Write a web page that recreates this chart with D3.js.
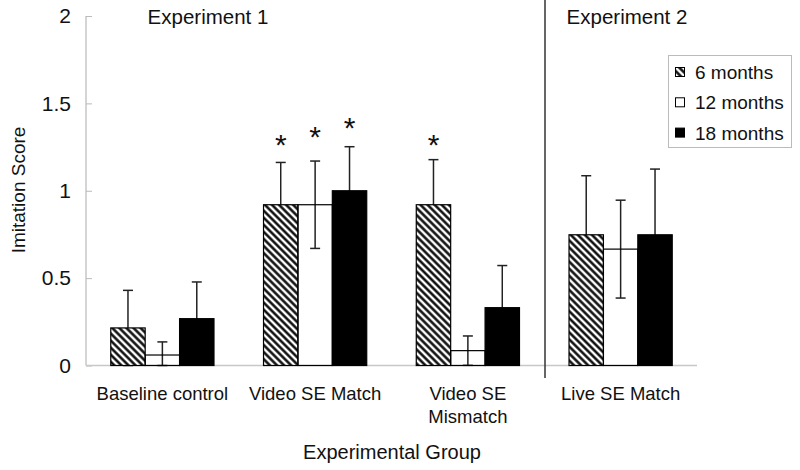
<!DOCTYPE html>
<html><head><meta charset="utf-8">
<script src="https://cdn.jsdelivr.net/npm/d3@7/dist/d3.min.js"></script>
<style>
html,body{margin:0;padding:0;background:#fff;}
svg{display:block;font-family:"Liberation Sans",Arial,Helvetica,sans-serif;}
</style></head>
<body><svg id="chart" width="800" height="470"></svg>
<script>
const groups = ["Baseline control", "Video SE Match", "Video SE\nMismatch", "Live SE Match"];
const seriesNames = ["6 months", "12 months", "18 months"];
const means6  = [0.215, 0.92, 0.92, 0.748];
const means12 = [0.06, 0.92, 0.085, 0.666];
const means18 = [0.268, 1.0, 0.331, 0.748];
const err6  = [0.215, 0.242, 0.258, 0.338];
const err12 = [0.075, 0.25, 0.084, 0.28];
const err18 = [0.21, 0.252, 0.241, 0.376];
const yTicks = [0, 0.5, 1, 1.5, 2];
const yTickLabels = ["0", "0.5", "1", "1.5", "2"];
// significance stars: group index, series index, height (score units)
const starGroup = [1, 1, 1, 2];
const starSeries = [0, 1, 2, 0];
const starHeight = [1.30, 1.345, 1.40, 1.30];
const experimentLabels = ["Experiment 1", "Experiment 2"];

const svg = d3.select("#chart");
const defs = svg.append("defs");
const pat = defs.append("pattern").attr("id","hatch").attr("patternUnits","userSpaceOnUse")
  .attr("width",5).attr("height",5).attr("patternTransform","rotate(-45)");
pat.append("rect").attr("width",5).attr("height",5).attr("fill","#fff");
pat.append("line").attr("x1",2.5).attr("y1",-1).attr("x2",2.5).attr("y2",6)
  .attr("stroke","#000").attr("stroke-width",2.4);

const fills = ["url(#hatch)", "none", "#000"];
const means = [means6, means12, means18];
const errs = [err6, err12, err18];

const x0 = d3.scaleBand().domain(groups).range([86, 697]).padding(0);
const x1 = d3.scaleBand().domain(seriesNames).range([0, x0.bandwidth()]).paddingInner(0).paddingOuter(0.72);
const y = d3.scaleLinear().domain([0, 2]).range([365.5, 16]);

// y axis
const yAxis = d3.axisLeft(y).tickValues(yTicks).tickFormat((d,i)=>yTickLabels[i]).tickSize(-6).tickPadding(15);
const ya = svg.append("g").attr("transform","translate(86,0)").call(yAxis);
ya.select(".domain").attr("stroke","#aaa").attr("d", `M0,${y(2)}V${y(0)}`);
ya.selectAll(".tick line").attr("stroke","#bbb");
ya.selectAll(".tick text").attr("font-size",21).attr("fill","#111").attr("font-family","Liberation Sans, Arial, sans-serif");

// baseline
svg.append("line").attr("x1",86).attr("x2",697).attr("y1",y(0)).attr("y2",y(0))
  .attr("stroke","#c8c8c8").attr("stroke-width",1.5);

const flat = [];
groups.forEach((g,gi)=>seriesNames.forEach((s,si)=>flat.push({g,gi,s,si,v:means[si][gi],e:errs[si][gi]})));

// error bars (drawn beneath bars so lower halves hide inside filled bars)
const eb = svg.append("g").attr("stroke","#222").attr("stroke-width",1.5);
flat.forEach(d=>{
  const cx = x0(d.g) + x1(d.s) + x1.bandwidth()/2;
  const lo = Math.max(0, d.v - d.e), hi = d.v + d.e;
  eb.append("line").attr("x1",cx).attr("x2",cx).attr("y1",y(lo)).attr("y2",y(hi));
  eb.append("line").attr("x1",cx-5).attr("x2",cx+5).attr("y1",y(hi)).attr("y2",y(hi));
  eb.append("line").attr("x1",cx-5).attr("x2",cx+5).attr("y1",y(lo)).attr("y2",y(lo));
});

// bars
svg.append("g").selectAll("rect").data(flat).join("rect")
  .attr("x", d=>x0(d.g)+x1(d.s)).attr("width", x1.bandwidth())
  .attr("y", d=>y(d.v)).attr("height", d=>y(0)-y(d.v))
  .attr("fill", d=>fills[d.si]).attr("stroke","#000").attr("stroke-width",1.2);

// stars
starGroup.forEach((gi,i)=>{
  const g = groups[gi], s = seriesNames[starSeries[i]];
  svg.append("text").attr("x", x0(g)+x1(s)+x1.bandwidth()/2).attr("y", y(starHeight[i]))
    .attr("dy", 17).attr("text-anchor","middle").attr("font-size",30).attr("fill","#111").text("*");
});

// separator
svg.append("line").attr("x1",545).attr("x2",545).attr("y1",0).attr("y2",378)
  .attr("stroke","#333").attr("stroke-width",1.5);

// experiment labels
svg.append("text").attr("x",208).attr("y",24).attr("text-anchor","middle").attr("font-size",20.5).attr("fill","#111").text(experimentLabels[0]);
svg.append("text").attr("x",627).attr("y",24).attr("text-anchor","middle").attr("font-size",20.5).attr("fill","#111").text(experimentLabels[1]);

// x labels
groups.forEach(g=>{
  const t = svg.append("text").attr("x", x0(g)+x0.bandwidth()/2).attr("y",400)
    .attr("text-anchor","middle").attr("font-size",18.5).attr("fill","#111");
  g.split("\n").forEach((line,i)=>t.append("tspan").attr("x", x0(g)+x0.bandwidth()/2).attr("dy", i?23:0).text(line));
});

// axis titles
svg.append("text").attr("x",392).attr("y",459).attr("text-anchor","middle").attr("font-size",20).attr("fill","#111").text("Experimental Group");
svg.append("text").attr("transform","translate(25,190) rotate(-90)").attr("text-anchor","middle").attr("font-size",19).attr("fill","#111").text("Imitation Score");

// legend
const lg = svg.append("g");
lg.append("rect").attr("x",668.5).attr("y",55.5).attr("width",123).attr("height",92)
  .attr("fill","#fff").attr("stroke","#bbb");
const legFills = ["url(#hatch)", "#fff", "#000"];
seriesNames.forEach((s,i)=>{
  const cy = 72.5 + i*30.3;
  lg.append("rect").attr("x",675.5).attr("y",cy-5).attr("width",9).attr("height",9)
    .attr("fill",legFills[i]).attr("stroke","#000").attr("stroke-width",1);
  lg.append("text").attr("x",695).attr("y",cy).attr("dy","0.35em").attr("font-size",19).attr("fill","#111").text(s);
});
</script></body></html>
